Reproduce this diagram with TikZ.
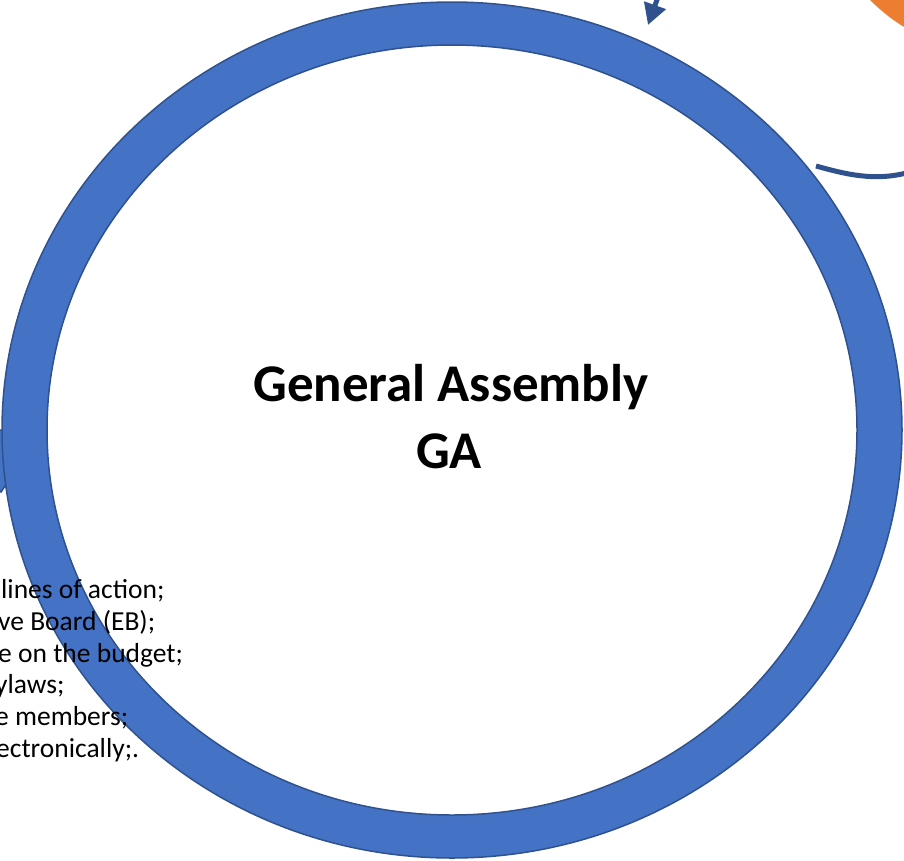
\documentclass[tikz,border=0pt]{standalone}
\usepackage{fontspec}
\setmainfont{Carlito}
\usetikzlibrary{arrows.meta}

\definecolor{ringblue}{HTML}{4472C4}
\definecolor{darkblue}{HTML}{2F528F}
\definecolor{orangeacc}{HTML}{ED7D31}

\tikzset{
  ring/.style={fill=ringblue,draw=darkblue,line width=1.5pt,even odd rule},
  duty/.style={anchor=base west,inner sep=0pt,font=\fontsize{27.5}{32}\selectfont},
  title/.style={anchor=base,inner sep=0pt,font=\fontsize{53}{67}\selectfont\bfseries},
  link/.style={draw=darkblue,line width=5pt}
}

\begin{document}
\begin{tikzpicture}[x=1pt,y=-1pt]

  \useasboundingbox (0,0) rectangle (904,860);
  \clip (0,0) rectangle (904,860);

  % head of the loop coming in on the left
  \path[ring] (-20,430) -- (5,430) -- (8,482) -- (1,492) -- (-20,470) -- cycle;

  % the ring
  \coordinate (c) at (452,430);
  \path[ring] (c) ellipse [x radius=450pt,y radius=428pt]
              (c) ellipse [x radius=405pt,y radius=385pt];

  % duties, cut at the left edge
  \node[duty] (d1) at (1,598)  {lines of action;};
  \node[duty] (d2) at (-2,630) {ve Board (EB);};
  \node[duty] (d3) at (-2,662) {e on the budget;};
  \node[duty] (d4) at (-5,693) {ylaws;};
  \node[duty] (d5) at (-5,725) {e members;};
  \node[duty] (d6) at (-4,757) {ectronically;.};

  % title
  \node[title] (ga1) at (451,401) {General Assembly};
  \node[title] (ga2) at (449,468) {GA};

  % arrow coming down at the top
  \coordinate (t0) at (664,-20);
  \coordinate (t1) at (648,25);
  \draw[link,-{Triangle[width=22pt,length=21pt]}] (t0) -- (t1);

  % connector leaving to the right
  \coordinate (r0) at (816,166);
  \coordinate (r1) at (910,172);
  \draw[link] (r0) .. controls (845,174) and (875,182) .. (r1);

  % edge of the orange shape
  \fill[orangeacc] (868,-2) .. controls (880,10) and (892,20) .. (906,28) -- (906,-2) -- cycle;

\end{tikzpicture}
\end{document}
